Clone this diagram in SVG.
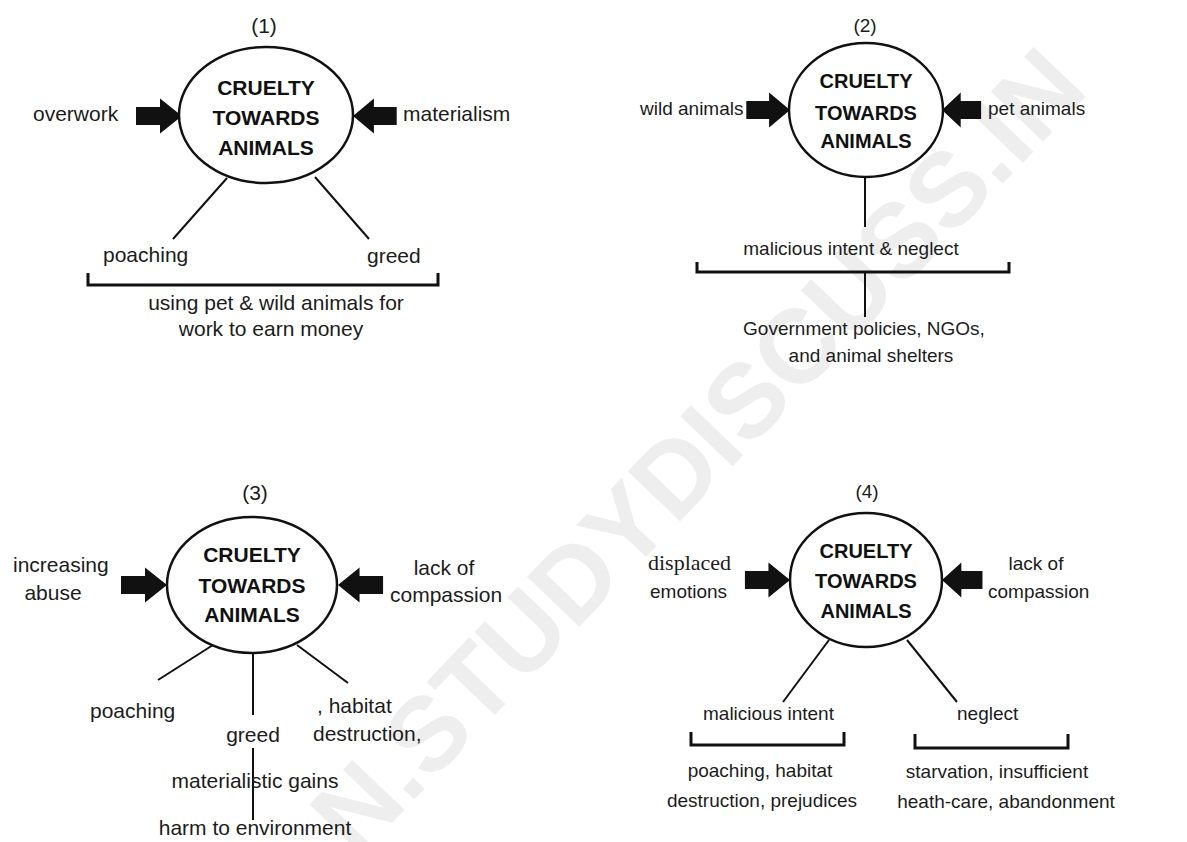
<svg xmlns="http://www.w3.org/2000/svg" width="1187" height="842" viewBox="0 0 1187 842">
<defs>
<style>
.t{font-family:"Liberation Sans",Arial,sans-serif;font-size:21px;fill:#1c1c1c}
.s{font-size:19px}
.c{text-anchor:middle}
.h{font-family:"Liberation Sans",Arial,sans-serif;font-weight:bold;font-size:21px;fill:#111;text-anchor:middle}
.e{fill:#fff;stroke:#111;stroke-width:2.5}
.ln{stroke:#111;stroke-width:2;fill:none}
.br{stroke:#111;stroke-width:3;fill:none}
.wm{font-family:"Liberation Sans",Arial,sans-serif;font-weight:bold;font-size:105px;fill:#eeeeee;text-anchor:middle}
</style>
<path id="arr" d="M-46,-9 H-22 V-17.5 L0,0 L-22,17.5 V9 H-46 Z" fill="#111"/>
</defs>
<rect width="1187" height="842" fill="#fff"/>
<text class="wm" transform="translate(697,450) rotate(-46.3)" y="37">N.STUDYDISCUSS.IN</text>

<g id="connectors">
<!-- Q1 -->
<use href="#arr" transform="translate(182,116)"/>
<use href="#arr" transform="translate(353,116) scale(-0.95,1)"/>
<line class="ln" x1="227" y1="178" x2="173" y2="239"/>
<line class="ln" x1="315" y1="177" x2="369" y2="239"/>
<path class="br" d="M88,273 V285 H438 V273"/>
<!-- Q2 -->
<use href="#arr" transform="translate(790,110) scale(0.95,1)"/>
<use href="#arr" transform="translate(942,110) scale(-0.85,1)"/>
<line class="ln" x1="865" y1="177" x2="865" y2="227"/>
<path class="br" d="M697,262 V272 H1009 V262"/>
<line class="ln" x1="865" y1="272" x2="865" y2="317"/>
<!-- Q3 -->
<use href="#arr" transform="translate(167,585)"/>
<use href="#arr" transform="translate(338,585) scale(-0.98,1)"/>
<line class="ln" x1="213" y1="645" x2="158" y2="680"/>
<line class="ln" x1="253" y1="653" x2="253" y2="715"/>
<line class="ln" x1="297" y1="645" x2="348" y2="683"/>
<line class="ln" x1="253" y1="748" x2="253" y2="820"/>
<!-- Q4 -->
<use href="#arr" transform="translate(790,580) scale(0.98,1)"/>
<use href="#arr" transform="translate(942,580) scale(-0.88,1)"/>
<line class="ln" x1="829" y1="640" x2="783" y2="702"/>
<line class="ln" x1="907" y1="640" x2="957" y2="702"/>
<path class="br" d="M691,732 V745 H844 V732"/>
<path class="br" d="M915,734 V748 H1068 V734"/>
</g>

<g id="diagram1">
<text class="t c" x="264" y="33">(1)</text>
<g id="center1">
<ellipse class="e" cx="266" cy="115" rx="87" ry="68"/>
<text class="h" x="266" y="95">CRUELTY</text>
<text class="h" x="266" y="125">TOWARDS</text>
<text class="h" x="266" y="155">ANIMALS</text>
</g>
<text id="n1-overwork" class="t" x="33" y="121">overwork</text>
<text id="n1-materialism" class="t" x="403" y="121">materialism</text>
<text id="n1-poaching" class="t" x="103" y="262">poaching</text>
<text id="n1-greed" class="t" x="367" y="263">greed</text>
<g id="n1-using">
<text class="t c" x="276" y="310">using pet &amp; wild animals for</text>
<text class="t c" x="271" y="336">work to earn money</text>
</g>
</g>

<g id="diagram2">
<text class="t s c" x="865" y="32">(2)</text>
<g id="center2">
<ellipse class="e" cx="866" cy="110" rx="77" ry="67"/>
<text class="h" x="866" y="88" style="font-size:20px">CRUELTY</text>
<text class="h" x="866" y="120" style="font-size:20px">TOWARDS</text>
<text class="h" x="866" y="148" style="font-size:20px">ANIMALS</text>
</g>
<text id="n2-wild" class="t s" x="640" y="115">wild animals</text>
<text id="n2-pet" class="t s" x="988" y="115">pet animals</text>
<text id="n2-malicious" class="t s c" x="851" y="255">malicious intent &amp; neglect</text>
<g id="n2-gov">
<text class="t s c" x="864" y="335">Government policies, NGOs,</text>
<text class="t s c" x="871" y="362">and animal shelters</text>
</g>
</g>

<g id="diagram3">
<text class="t c" x="255" y="500">(3)</text>
<g id="center3">
<ellipse class="e" cx="252" cy="585" rx="85" ry="68"/>
<text class="h" x="252" y="562">CRUELTY</text>
<text class="h" x="252" y="593">TOWARDS</text>
<text class="h" x="252" y="622">ANIMALS</text>
</g>
<g id="n3-abuse">
<text class="t" x="13" y="572">increasing</text>
<text class="t c" x="53" y="600">abuse</text>
</g>
<g id="n3-compassion">
<text class="t c" x="444" y="575">lack of</text>
<text class="t" x="390" y="602">compassion</text>
</g>
<text id="n3-poaching" class="t" x="90" y="718">poaching</text>
<text id="n3-greed" class="t c" x="253" y="742">greed</text>
<g id="n3-habitat">
<text class="t" x="317" y="713">, habitat</text>
<text class="t" x="313" y="741">destruction,</text>
</g>
<text id="n3-gains" class="t c" x="255" y="788">materialistic gains</text>
<text id="n3-harm" class="t c" x="255" y="835">harm to environment</text>
</g>

<g id="diagram4">
<text class="t s c" x="867" y="498">(4)</text>
<g id="center4">
<ellipse class="e" cx="866" cy="580" rx="76" ry="67"/>
<text class="h" x="866" y="558" style="font-size:20px">CRUELTY</text>
<text class="h" x="866" y="588" style="font-size:20px">TOWARDS</text>
<text class="h" x="866" y="618" style="font-size:20px">ANIMALS</text>
</g>
<g id="n4-emotions">
<text class="t" x="648" y="570" style="font-family:'Liberation Serif','Times New Roman',serif;font-size:22px">displaced</text>
<text class="t s" x="650" y="598">emotions</text>
</g>
<g id="n4-compassion">
<text class="t s c" x="1036" y="570">lack of</text>
<text class="t s" x="988" y="598">compassion</text>
</g>
<text id="n4-malicious" class="t s" x="703" y="720">malicious intent</text>
<text id="n4-neglect" class="t s" x="957" y="720">neglect</text>
<g id="n4-poaching">
<text class="t s c" x="760" y="777">poaching, habitat</text>
<text class="t s c" x="762" y="807">destruction, prejudices</text>
</g>
<g id="n4-starvation">
<text class="t s c" x="997" y="778">starvation, insufficient</text>
<text class="t s c" x="1006" y="808">heath-care, abandonment</text>
</g>
</g>
</svg>
